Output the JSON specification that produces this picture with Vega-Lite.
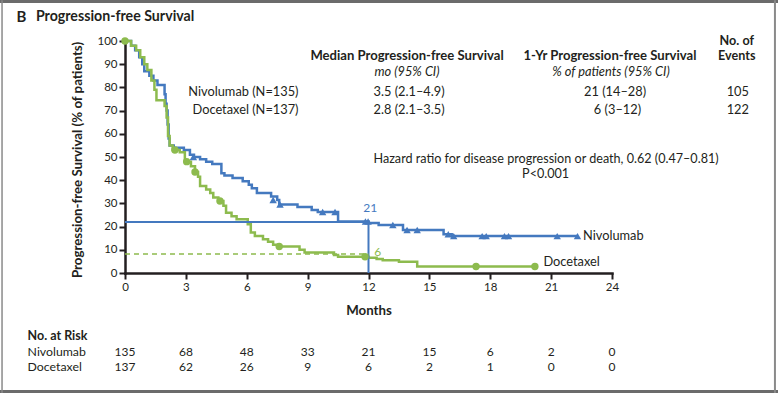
{
  "$schema": "https://vega.github.io/schema/vega-lite/v6.json",
  "width": 487,
  "height": 232,
  "autosize": {"type": "none"},
  "padding": {"left": 125, "top": 41, "right": 166, "bottom": 122},
  "background": "white",
  "config": {
    "view": {"stroke": null},
    "text": {"font": "Lato", "fontSize": 12.8, "color": "#231f20", "baseline": "middle"},
    "axis": {
      "domainColor": "#231f20", "domainWidth": 2.5, "domainCap": "square",
      "tickColor": "#231f20", "tickWidth": 2, "tickSize": 6,
      "labelFont": "Lato", "labelFontSize": 11.5, "labelColor": "#231f20", "labelPadding": 2,
      "grid": false, "labelOverlap": false, "labelFlush": false, "labelBound": false,
      "titleFont": "Lato", "titleFontSize": 13.3, "titleFontWeight": "bold", "titleColor": "#231f20"
    },
    "axisY": {"tickCount": 11}
  },
  "datasets": {
    "km": [
      {"arm": "Nivolumab", "month": 0, "pfs": 100}, {"arm": "Nivolumab", "month": 0.3, "pfs": 98}, {"arm": "Nivolumab", "month": 0.5, "pfs": 96}, {"arm": "Nivolumab", "month": 0.7, "pfs": 93}, {"arm": "Nivolumab", "month": 0.85, "pfs": 90}, {"arm": "Nivolumab", "month": 0.95, "pfs": 87}, {"arm": "Nivolumab", "month": 1.2, "pfs": 85}, {"arm": "Nivolumab", "month": 1.4, "pfs": 83}, {"arm": "Nivolumab", "month": 1.6, "pfs": 81}, {"arm": "Nivolumab", "month": 1.95, "pfs": 77}, {"arm": "Nivolumab", "month": 2.0, "pfs": 73}, {"arm": "Nivolumab", "month": 2.05, "pfs": 70}, {"arm": "Nivolumab", "month": 2.1, "pfs": 64}, {"arm": "Nivolumab", "month": 2.15, "pfs": 58}, {"arm": "Nivolumab", "month": 2.2, "pfs": 55}, {"arm": "Nivolumab", "month": 2.4, "pfs": 54}, {"arm": "Nivolumab", "month": 2.9, "pfs": 53}, {"arm": "Nivolumab", "month": 3.2, "pfs": 51}, {"arm": "Nivolumab", "month": 3.4, "pfs": 50}, {"arm": "Nivolumab", "month": 3.7, "pfs": 49}, {"arm": "Nivolumab", "month": 4.0, "pfs": 48}, {"arm": "Nivolumab", "month": 4.3, "pfs": 47}, {"arm": "Nivolumab", "month": 4.75, "pfs": 43}, {"arm": "Nivolumab", "month": 4.9, "pfs": 42}, {"arm": "Nivolumab", "month": 5.3, "pfs": 41}, {"arm": "Nivolumab", "month": 5.8, "pfs": 39.5}, {"arm": "Nivolumab", "month": 6.1, "pfs": 38}, {"arm": "Nivolumab", "month": 6.25, "pfs": 36.5}, {"arm": "Nivolumab", "month": 6.5, "pfs": 34.5}, {"arm": "Nivolumab", "month": 7.2, "pfs": 33}, {"arm": "Nivolumab", "month": 7.5, "pfs": 31.5}, {"arm": "Nivolumab", "month": 7.6, "pfs": 29.5}, {"arm": "Nivolumab", "month": 8.5, "pfs": 28.5}, {"arm": "Nivolumab", "month": 9.2, "pfs": 27.2}, {"arm": "Nivolumab", "month": 9.5, "pfs": 26.3}, {"arm": "Nivolumab", "month": 10.5, "pfs": 22.2}, {"arm": "Nivolumab", "month": 12.0, "pfs": 21.5}, {"arm": "Nivolumab", "month": 12.5, "pfs": 20.7}, {"arm": "Nivolumab", "month": 13.7, "pfs": 18.5}, {"arm": "Nivolumab", "month": 15.7, "pfs": 16.7}, {"arm": "Nivolumab", "month": 16.1, "pfs": 15.9}, {"arm": "Nivolumab", "month": 22.3, "pfs": 15.9},
      {"arm": "Docetaxel", "month": 0, "pfs": 100}, {"arm": "Docetaxel", "month": 0.3, "pfs": 98}, {"arm": "Docetaxel", "month": 0.55, "pfs": 96}, {"arm": "Docetaxel", "month": 0.75, "pfs": 93}, {"arm": "Docetaxel", "month": 0.95, "pfs": 90}, {"arm": "Docetaxel", "month": 1.1, "pfs": 87.5}, {"arm": "Docetaxel", "month": 1.3, "pfs": 83}, {"arm": "Docetaxel", "month": 1.45, "pfs": 79}, {"arm": "Docetaxel", "month": 1.55, "pfs": 74.5}, {"arm": "Docetaxel", "month": 1.95, "pfs": 72}, {"arm": "Docetaxel", "month": 2.05, "pfs": 67}, {"arm": "Docetaxel", "month": 2.12, "pfs": 59}, {"arm": "Docetaxel", "month": 2.2, "pfs": 55}, {"arm": "Docetaxel", "month": 2.35, "pfs": 53}, {"arm": "Docetaxel", "month": 2.7, "pfs": 52}, {"arm": "Docetaxel", "month": 2.95, "pfs": 48}, {"arm": "Docetaxel", "month": 3.25, "pfs": 46}, {"arm": "Docetaxel", "month": 3.45, "pfs": 43.5}, {"arm": "Docetaxel", "month": 3.6, "pfs": 41.5}, {"arm": "Docetaxel", "month": 3.7, "pfs": 37.5}, {"arm": "Docetaxel", "month": 4.0, "pfs": 36}, {"arm": "Docetaxel", "month": 4.2, "pfs": 34.5}, {"arm": "Docetaxel", "month": 4.35, "pfs": 32.5}, {"arm": "Docetaxel", "month": 4.6, "pfs": 31}, {"arm": "Docetaxel", "month": 4.85, "pfs": 29}, {"arm": "Docetaxel", "month": 4.98, "pfs": 26}, {"arm": "Docetaxel", "month": 5.25, "pfs": 24.5}, {"arm": "Docetaxel", "month": 5.5, "pfs": 23.2}, {"arm": "Docetaxel", "month": 6.05, "pfs": 21}, {"arm": "Docetaxel", "month": 6.2, "pfs": 17.5}, {"arm": "Docetaxel", "month": 6.4, "pfs": 16}, {"arm": "Docetaxel", "month": 6.8, "pfs": 14.5}, {"arm": "Docetaxel", "month": 7.05, "pfs": 13.5}, {"arm": "Docetaxel", "month": 7.3, "pfs": 12.2}, {"arm": "Docetaxel", "month": 7.6, "pfs": 11.4}, {"arm": "Docetaxel", "month": 8.6, "pfs": 10}, {"arm": "Docetaxel", "month": 8.85, "pfs": 8.8}, {"arm": "Docetaxel", "month": 10.3, "pfs": 7.8}, {"arm": "Docetaxel", "month": 10.5, "pfs": 7.0}, {"arm": "Docetaxel", "month": 12.0, "pfs": 6.6}, {"arm": "Docetaxel", "month": 12.4, "pfs": 6.0}, {"arm": "Docetaxel", "month": 12.7, "pfs": 5.5}, {"arm": "Docetaxel", "month": 13.5, "pfs": 4.8}, {"arm": "Docetaxel", "month": 14.4, "pfs": 2.8}, {"arm": "Docetaxel", "month": 20.2, "pfs": 2.8}
    ],
    "censor": [
      {"arm": "Nivolumab", "month": 3.37, "pfs": 50}, {"arm": "Nivolumab", "month": 7.3, "pfs": 31.5}, {"arm": "Nivolumab", "month": 7.64, "pfs": 29.5}, {"arm": "Nivolumab", "month": 9.74, "pfs": 26.3}, {"arm": "Nivolumab", "month": 10.35, "pfs": 26.3}, {"arm": "Nivolumab", "month": 11.85, "pfs": 22.2}, {"arm": "Nivolumab", "month": 11.98, "pfs": 22.2}, {"arm": "Nivolumab", "month": 13.2, "pfs": 20.7}, {"arm": "Nivolumab", "month": 13.9, "pfs": 18.5}, {"arm": "Nivolumab", "month": 14.4, "pfs": 18.5}, {"arm": "Nivolumab", "month": 15.93, "pfs": 16.7}, {"arm": "Nivolumab", "month": 16.2, "pfs": 15.9}, {"arm": "Nivolumab", "month": 17.6, "pfs": 15.9}, {"arm": "Nivolumab", "month": 17.8, "pfs": 15.9}, {"arm": "Nivolumab", "month": 18.7, "pfs": 15.9}, {"arm": "Nivolumab", "month": 18.9, "pfs": 15.9}, {"arm": "Nivolumab", "month": 21.3, "pfs": 15.9}, {"arm": "Nivolumab", "month": 22.3, "pfs": 15.9},
      {"arm": "Docetaxel", "month": 0, "pfs": 100}, {"arm": "Docetaxel", "month": 2.46, "pfs": 53}, {"arm": "Docetaxel", "month": 3.04, "pfs": 48}, {"arm": "Docetaxel", "month": 3.45, "pfs": 43.5}, {"arm": "Docetaxel", "month": 4.68, "pfs": 31}, {"arm": "Docetaxel", "month": 7.6, "pfs": 11.4}, {"arm": "Docetaxel", "month": 11.83, "pfs": 7.0}, {"arm": "Docetaxel", "month": 17.3, "pfs": 2.8}, {"arm": "Docetaxel", "month": 20.2, "pfs": 2.8}
    ],
    "risk": [
      {"arm": "Nivolumab", "month": 0, "n": 135}, {"arm": "Nivolumab", "month": 3, "n": 68}, {"arm": "Nivolumab", "month": 6, "n": 48}, {"arm": "Nivolumab", "month": 9, "n": 33}, {"arm": "Nivolumab", "month": 12, "n": 21}, {"arm": "Nivolumab", "month": 15, "n": 15}, {"arm": "Nivolumab", "month": 18, "n": 6}, {"arm": "Nivolumab", "month": 21, "n": 2}, {"arm": "Nivolumab", "month": 24, "n": 0},
      {"arm": "Docetaxel", "month": 0, "n": 137}, {"arm": "Docetaxel", "month": 3, "n": 62}, {"arm": "Docetaxel", "month": 6, "n": 26}, {"arm": "Docetaxel", "month": 9, "n": 9}, {"arm": "Docetaxel", "month": 12, "n": 6}, {"arm": "Docetaxel", "month": 15, "n": 2}, {"arm": "Docetaxel", "month": 18, "n": 1}, {"arm": "Docetaxel", "month": 21, "n": 0}, {"arm": "Docetaxel", "month": 24, "n": 0}
    ],
    "summary": [
      {"arm": "Nivolumab", "label": "Nivolumab (N=135)", "median": "3.5 (2.1–4.9)", "pfs1yr": "21 (14–28)", "events": "105"},
      {"arm": "Docetaxel", "label": "Docetaxel (N=137)", "median": "2.8 (2.1–3.5)", "pfs1yr": "6 (3–12)", "events": "122"}
    ],
    "one": [{}]
  },
  "layer": [
    {
      "data": {"name": "km"},
      "mark": {"type": "line", "interpolate": "step-after", "strokeWidth": 2.5},
      "encoding": {
        "x": {"field": "month", "type": "quantitative", "scale": {"domain": [0, 24], "nice": false, "zero": false},
              "axis": {"values": [0, 3, 6, 9, 12, 15, 18, 21, 24], "title": "Months", "titleX": 243.5, "titleY": 37, "titleAlign": "center", "titleBaseline": "middle"}},
        "y": {"field": "pfs", "type": "quantitative", "scale": {"domain": [0, 100], "nice": false, "zero": false},
              "axis": {"values": [0, 10, 20, 30, 40, 50, 60, 70, 80, 90, 100], "tickCount": 11, "title": "Progression-free Survival (% of patients)", "titleX": -47.5, "titleY": 118.5, "titleAngle": -90, "titleAlign": "center", "titleBaseline": "middle"}},
        "color": {"field": "arm", "type": "nominal", "scale": {"domain": ["Nivolumab", "Docetaxel"], "range": ["#4479bf", "#8dbb4e"]}, "legend": null},
        "order": {"field": "month", "type": "quantitative"}
      }
    },
    {
      "data": {"name": "one"},
      "mark": {"type": "rule", "color": "#6b6b6b", "strokeWidth": 3, "clip": false},
      "encoding": {"x": {"datum": -6.2}, "x2": {"datum": 32.2}, "y": {"datum": 117.0}}
    },
    {
      "data": {"name": "one"},
      "mark": {"type": "rule", "color": "#6b6b6b", "strokeWidth": 3, "clip": false},
      "encoding": {"x": {"datum": -6.2}, "x2": {"datum": 32.2}, "y": {"datum": -51.1}}
    },
    {
      "data": {"name": "one"},
      "mark": {"type": "rule", "color": "#8a8a8a", "strokeWidth": 1.5, "clip": false},
      "encoding": {"x": {"datum": -6.06}, "y": {"datum": 117.6}, "y2": {"datum": -51.7}}
    },
    {
      "data": {"name": "one"},
      "mark": {"type": "rule", "color": "#8a8a8a", "strokeWidth": 2, "clip": false},
      "encoding": {"x": {"datum": 32.03}, "y": {"datum": 117.6}, "y2": {"datum": -51.7}}
    },
    {
      "data": {"name": "one"},
      "mark": {"type": "rule", "color": "#4479bf", "strokeWidth": 2},
      "encoding": {"x": {"datum": 0}, "x2": {"datum": 12}, "y": {"datum": 22}}
    },
    {
      "data": {"name": "one"},
      "mark": {"type": "rule", "color": "#4479bf", "strokeWidth": 2},
      "encoding": {"x": {"datum": 12}, "y": {"datum": 22}, "y2": {"datum": 0}}
    },
    {
      "data": {"name": "one"},
      "mark": {"type": "rule", "color": "#8dbb4e", "strokeWidth": 1.5, "strokeDash": [5, 4]},
      "encoding": {"x": {"datum": 0}, "x2": {"datum": 12}, "y": {"datum": 8.2}}
    },
    {
      "data": {"name": "censor"},
      "mark": {"type": "point", "filled": true, "opacity": 1, "size": 55},
      "encoding": {
        "x": {"field": "month", "type": "quantitative"},
        "y": {"field": "pfs", "type": "quantitative"},
        "color": {"field": "arm", "type": "nominal", "scale": {"domain": ["Nivolumab", "Docetaxel"], "range": ["#4479bf", "#8dbb4e"]}, "legend": null},
        "shape": {"field": "arm", "type": "nominal", "scale": {"domain": ["Nivolumab", "Docetaxel"], "range": ["triangle-up", "circle"]}, "legend": null}
      }
    },
    {
      "data": {"name": "one"},
      "mark": {"type": "text", "align": "center", "fontSize": 12, "color": "#4479bf"},
      "encoding": {"x": {"datum": 12.08}, "y": {"datum": 27.9}, "text": {"value": "21"}}
    },
    {
      "data": {"name": "one"},
      "mark": {"type": "text", "align": "center", "fontSize": 12, "color": "#8dbb4e"},
      "encoding": {"x": {"datum": 12.45}, "y": {"datum": 9.2}, "text": {"value": "6"}}
    },
    {
      "data": {"name": "one"},
      "mark": {"type": "text", "align": "left"},
      "encoding": {"x": {"datum": 22.57}, "y": {"datum": 16.1}, "text": {"value": "Nivolumab"}}
    },
    {
      "data": {"name": "one"},
      "mark": {"type": "text", "align": "left"},
      "encoding": {"x": {"datum": 20.62}, "y": {"datum": 4.6}, "text": {"value": "Docetaxel"}}
    },
    {
      "data": {"name": "one"},
      "mark": {"type": "text", "align": "left", "fontSize": 15, "fontWeight": "bold"},
      "encoding": {"x": {"datum": -5.35}, "y": {"datum": 110.2}, "text": {"value": "B"}}
    },
    {
      "data": {"name": "one"},
      "mark": {"type": "text", "align": "left", "fontSize": 14.2, "fontWeight": "bold"},
      "encoding": {"x": {"datum": -4.39}, "y": {"datum": 110.2}, "text": {"value": "Progression-free Survival"}}
    },
    {
      "data": {"name": "one"},
      "mark": {"type": "text", "align": "center", "fontWeight": "bold", "fontSize": 13.1},
      "encoding": {"x": {"datum": 13.9}, "y": {"datum": 93.5}, "text": {"value": "Median Progression-free Survival"}}
    },
    {
      "data": {"name": "one"},
      "mark": {"type": "text", "align": "center", "fontStyle": "italic"},
      "encoding": {"x": {"datum": 13.9}, "y": {"datum": 86.8}, "text": {"value": "mo (95% CI)"}}
    },
    {
      "data": {"name": "one"},
      "mark": {"type": "text", "align": "center", "fontWeight": "bold", "fontSize": 13.1},
      "encoding": {"x": {"datum": 23.9}, "y": {"datum": 93.5}, "text": {"value": "1-Yr Progression-free Survival"}}
    },
    {
      "data": {"name": "one"},
      "mark": {"type": "text", "align": "center", "fontStyle": "italic"},
      "encoding": {"x": {"datum": 23.95}, "y": {"datum": 86.8}, "text": {"value": "% of patients (95% CI)"}}
    },
    {
      "data": {"name": "one"},
      "mark": {"type": "text", "align": "center", "fontWeight": "bold", "fontSize": 12.6},
      "encoding": {"x": {"datum": 30.15}, "y": {"datum": 100.1}, "text": {"value": "No. of"}}
    },
    {
      "data": {"name": "one"},
      "mark": {"type": "text", "align": "center", "fontWeight": "bold", "fontSize": 12.6},
      "encoding": {"x": {"datum": 30.15}, "y": {"datum": 93.5}, "text": {"value": "Events"}}
    },
    {
      "data": {"name": "summary"},
      "transform": [{"filter": "datum.arm === 'Nivolumab'"}],
      "encoding": {"y": {"datum": 77.9}},
      "layer": [
        {"mark": {"type": "text", "align": "right"}, "encoding": {"x": {"datum": 8.55}, "text": {"field": "label"}}},
        {"mark": {"type": "text", "align": "center"}, "encoding": {"x": {"datum": 14.0}, "text": {"field": "median"}}},
        {"mark": {"type": "text", "align": "center"}, "encoding": {"x": {"datum": 24.15}, "text": {"field": "pfs1yr"}}},
        {"mark": {"type": "text", "align": "center"}, "encoding": {"x": {"datum": 30.2}, "text": {"field": "events"}}}
      ]
    },
    {
      "data": {"name": "summary"},
      "transform": [{"filter": "datum.arm === 'Docetaxel'"}],
      "encoding": {"y": {"datum": 70.3}},
      "layer": [
        {"mark": {"type": "text", "align": "right"}, "encoding": {"x": {"datum": 8.55}, "text": {"field": "label"}}},
        {"mark": {"type": "text", "align": "center"}, "encoding": {"x": {"datum": 14.0}, "text": {"field": "median"}}},
        {"mark": {"type": "text", "align": "center"}, "encoding": {"x": {"datum": 24.27}, "text": {"field": "pfs1yr"}}},
        {"mark": {"type": "text", "align": "center"}, "encoding": {"x": {"datum": 30.2}, "text": {"field": "events"}}}
      ]
    },
    {
      "data": {"name": "one"},
      "mark": {"type": "text", "align": "center", "fontSize": 12.6},
      "encoding": {"x": {"datum": 20.75}, "y": {"datum": 49.2}, "text": {"value": "Hazard ratio for disease progression or death, 0.62 (0.47–0.81)"}}
    },
    {
      "data": {"name": "one"},
      "mark": {"type": "text", "align": "center", "fontSize": 12.6},
      "encoding": {"x": {"datum": 20.73}, "y": {"datum": 42.8}, "text": {"value": "P<0.001"}}
    },
    {
      "data": {"name": "one"},
      "mark": {"type": "text", "align": "left", "fontWeight": "bold", "fontSize": 12.5},
      "encoding": {"x": {"datum": -4.8}, "y": {"datum": -27.2}, "text": {"value": "No. at Risk"}}
    },
    {
      "data": {"name": "one"},
      "mark": {"type": "text", "align": "left", "fontSize": 12.3},
      "encoding": {"x": {"datum": -4.8}, "y": {"datum": -34.0}, "text": {"value": "Nivolumab"}}
    },
    {
      "data": {"name": "one"},
      "mark": {"type": "text", "align": "left", "fontSize": 12.3},
      "encoding": {"x": {"datum": -4.8}, "y": {"datum": -40.7}, "text": {"value": "Docetaxel"}}
    },
    {
      "data": {"name": "risk"},
      "transform": [{"filter": "datum.arm === 'Nivolumab'"}],
      "mark": {"type": "text", "align": "center", "fontSize": 12},
      "encoding": {"x": {"field": "month", "type": "quantitative"}, "y": {"datum": -34.0}, "text": {"field": "n"}}
    },
    {
      "data": {"name": "risk"},
      "transform": [{"filter": "datum.arm === 'Docetaxel'"}],
      "mark": {"type": "text", "align": "center", "fontSize": 12},
      "encoding": {"x": {"field": "month", "type": "quantitative"}, "y": {"datum": -40.7}, "text": {"field": "n"}}
    }
  ]
}
